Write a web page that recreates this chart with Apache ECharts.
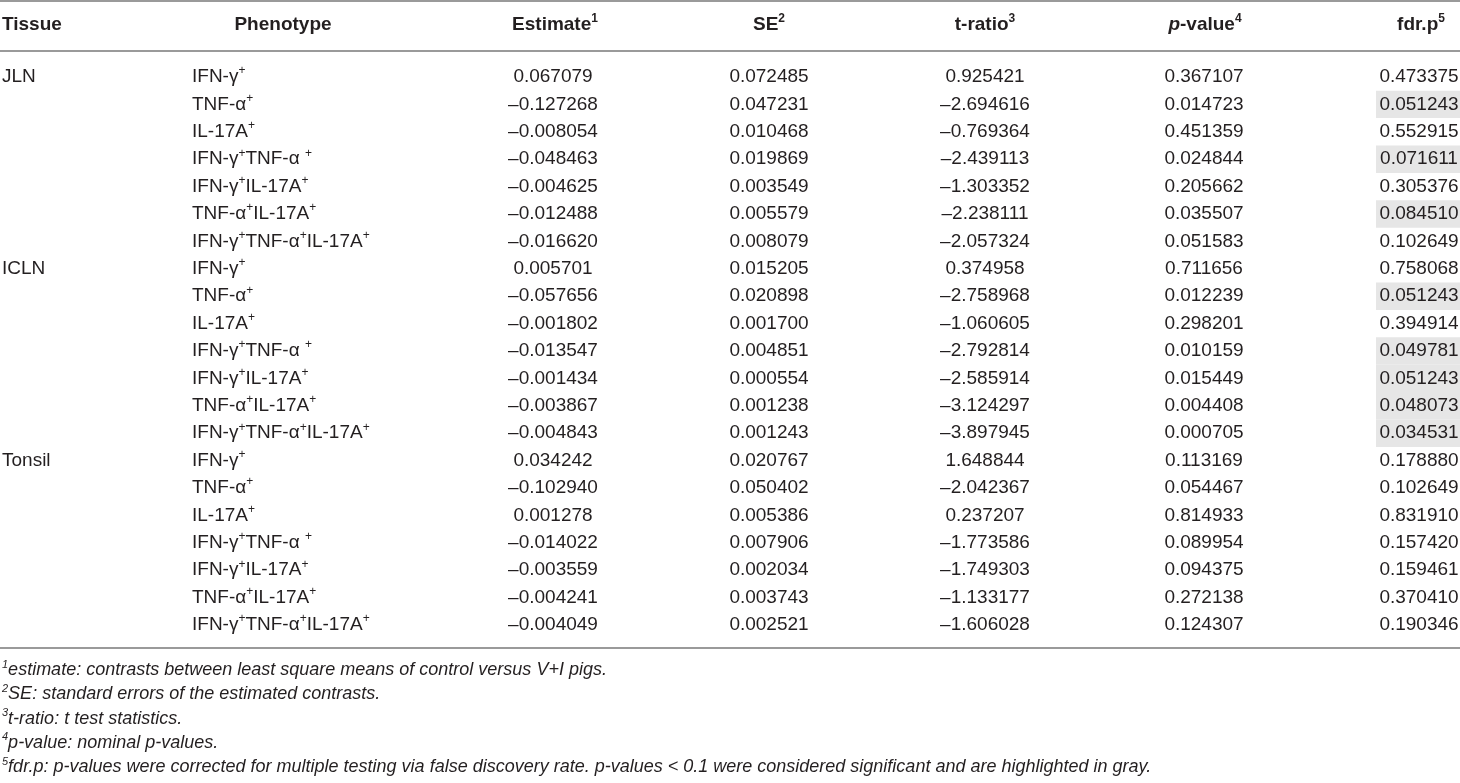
<!DOCTYPE html>
<html>
<head>
<meta charset="utf-8">
<script src="https://cdn.jsdelivr.net/npm/echarts@6/dist/echarts.min.js"></script>
<style>
html, body { margin: 0; padding: 0; background: #fff; }
#main { width: 1460px; height: 783px; }
</style>
</head>
<body>
<div id="main"></div>
<script>
// table data: contrasts control vs V+I pigs, per tissue and phenotype
var tissues = ['JLN', 'ICLN', 'Tonsil'];
var phenotypes = [
    'IFN-γ{sup|+}',
    'TNF-α{sup|+}',
    'IL-17A{sup|+}',
    'IFN-γ{sup|+}TNF-α {sup|+}',
    'IFN-γ{sup|+}IL-17A{sup|+}',
    'TNF-α{sup|+}IL-17A{sup|+}',
    'IFN-γ{sup|+}TNF-α{sup|+}IL-17A{sup|+}'
];
var estimate = [
    0.067079, -0.127268, -0.008054, -0.048463, -0.004625, -0.012488, -0.016620,
    0.005701, -0.057656, -0.001802, -0.013547, -0.001434, -0.003867, -0.004843,
    0.034242, -0.102940, 0.001278, -0.014022, -0.003559, -0.004241, -0.004049
];
var se = [
    0.072485, 0.047231, 0.010468, 0.019869, 0.003549, 0.005579, 0.008079,
    0.015205, 0.020898, 0.001700, 0.004851, 0.000554, 0.001238, 0.001243,
    0.020767, 0.050402, 0.005386, 0.007906, 0.002034, 0.003743, 0.002521
];
var tRatio = [
    0.925421, -2.694616, -0.769364, -2.439113, -1.303352, -2.238111, -2.057324,
    0.374958, -2.758968, -1.060605, -2.792814, -2.585914, -3.124297, -3.897945,
    1.648844, -2.042367, 0.237207, -1.773586, -1.749303, -1.133177, -1.606028
];
var pValue = [
    0.367107, 0.014723, 0.451359, 0.024844, 0.205662, 0.035507, 0.051583,
    0.711656, 0.012239, 0.298201, 0.010159, 0.015449, 0.004408, 0.000705,
    0.113169, 0.054467, 0.814933, 0.089954, 0.094375, 0.272138, 0.124307
];
var fdrP = [
    0.473375, 0.051243, 0.552915, 0.071611, 0.305376, 0.084510, 0.102649,
    0.758068, 0.051243, 0.394914, 0.049781, 0.051243, 0.048073, 0.034531,
    0.178880, 0.102649, 0.831910, 0.157420, 0.159461, 0.370410, 0.190346
];
var headers = [
    '{b|Tissue}', '{b|Phenotype}', '{b|Estimate}{bs|1}', '{b|SE}{bs|2}',
    '{b|t-ratio}{bs|3}', '{bi|p}{b|-value}{bs|4}', '{b|fdr.p}{bs|5}'
];
var footnotes = [
    '{fs|1}estimate: contrasts between least square means of control versus V+I pigs.',
    '{fs|2}SE: standard errors of the estimated contrasts.',
    '{fs|3}t-ratio: t test statistics.',
    '{fs|4}p-value: nominal p-values.',
    '{fs|5}fdr.p: p-values were corrected for multiple testing via false discovery rate. p-values < 0.1 were considered significant and are highlighted in gray.'
];
var cutoff = 0.1;

// layout
var font = 'Liberation Sans, Arial, sans-serif';
var ink = '#231f20';
var rule = '#9a9a9a';
var colX = [2, 192, 553, 769, 985, 1204, 1419];      // anchor of each column
var colAlign = ['left', 'left', 'center', 'center', 'center', 'center', 'center'];
var grayFrom = 1376;

var rich = {
    sup: { fontSize: 12, lineHeight: 12, verticalAlign: 'top', fontFamily: font, color: ink },
    b: { fontSize: 19, fontWeight: 'bold', fontFamily: font, color: ink },
    bi: { fontSize: 19, fontWeight: 'bold', fontStyle: 'italic', fontFamily: font, color: ink },
    bs: { fontSize: 12, lineHeight: 12, verticalAlign: 'top', fontWeight: 'bold', fontFamily: font, color: ink },
    fs: { fontSize: 11, lineHeight: 11, verticalAlign: 'top', fontStyle: 'italic', fontFamily: font, color: ink }
};

function fmt(v) {
    return v.toFixed(6).replace('-', '–');
}

var rows = [];
for (var i = 0; i < estimate.length; i++) rows.push([0, i]);

function renderRow(params, api) {
    var r = api.value(1);
    var y = api.coord([0, r])[1];
    var h = api.size([0, 1])[1];
    var kids = [];
    if (fdrP[r] < cutoff) {
        var x0 = api.coord([grayFrom, r])[0];
        var x1 = api.coord([1460, r])[0];
        kids.push({
            type: 'rect',
            shape: { x: x0, y: y - h / 2, width: x1 - x0, height: h },
            style: { fill: '#e6e6e6' }
        });
    }
    var per = phenotypes.length;
    var cells = [
        r % per === 0 ? tissues[Math.floor(r / per)] : '',
        phenotypes[r % per],
        fmt(estimate[r]), fmt(se[r]), fmt(tRatio[r]), fmt(pValue[r]), fmt(fdrP[r])
    ];
    for (var c = 0; c < cells.length; c++) {
        if (!cells[c]) continue;
        kids.push({
            type: 'text',
            x: api.coord([colX[c], r])[0],
            y: y,
            style: {
                text: cells[c],
                rich: rich,
                fontFamily: font,
                fontSize: 19,
                lineHeight: 24,
                fill: ink,
                align: colAlign[c],
                verticalAlign: 'middle'
            }
        });
    }
    return { type: 'group', children: kids };
}

var graphics = [
    { type: 'line', shape: { x1: 0, y1: 1, x2: 1460, y2: 1 }, style: { stroke: rule, lineWidth: 2 } },
    { type: 'line', shape: { x1: 0, y1: 51, x2: 1460, y2: 51 }, style: { stroke: rule, lineWidth: 2 } },
    { type: 'line', shape: { x1: 0, y1: 648, x2: 1460, y2: 648 }, style: { stroke: rule, lineWidth: 2 } }
];
var headX = [2, 283, 555, 769, 985, 1205, 1421];
var headAlign = ['left', 'center', 'center', 'center', 'center', 'center', 'center'];
headers.forEach(function (t, k) {
    graphics.push({
        type: 'text', x: headX[k], y: 25,
        style: { text: t, rich: rich, fill: ink, font: 'bold 19px ' + font, align: headAlign[k], verticalAlign: 'middle', lineHeight: 24 }
    });
});
footnotes.forEach(function (t, k) {
    graphics.push({
        type: 'text', x: 2, y: 670 + k * 24.3,
        style: { text: t, rich: rich, fill: ink, font: 'italic 18px ' + font, align: 'left', verticalAlign: 'middle', lineHeight: 22 }
    });
});

var myChart = echarts.init(document.getElementById('main'));
myChart.setOption({
    animation: false,
    grid: { left: 0, right: 0, top: 63.3, bottom: 144.3 },
    xAxis: { type: 'value', min: 0, max: 1460, show: false },
    yAxis: {
        type: 'category',
        inverse: true,
        show: false,
        data: rows.map(function (d) { return d[1]; })
    },
    graphic: graphics,
    series: [{
        type: 'custom',
        renderItem: renderRow,
        data: rows,
        clip: false
    }]
});
</script>
</body>
</html>
